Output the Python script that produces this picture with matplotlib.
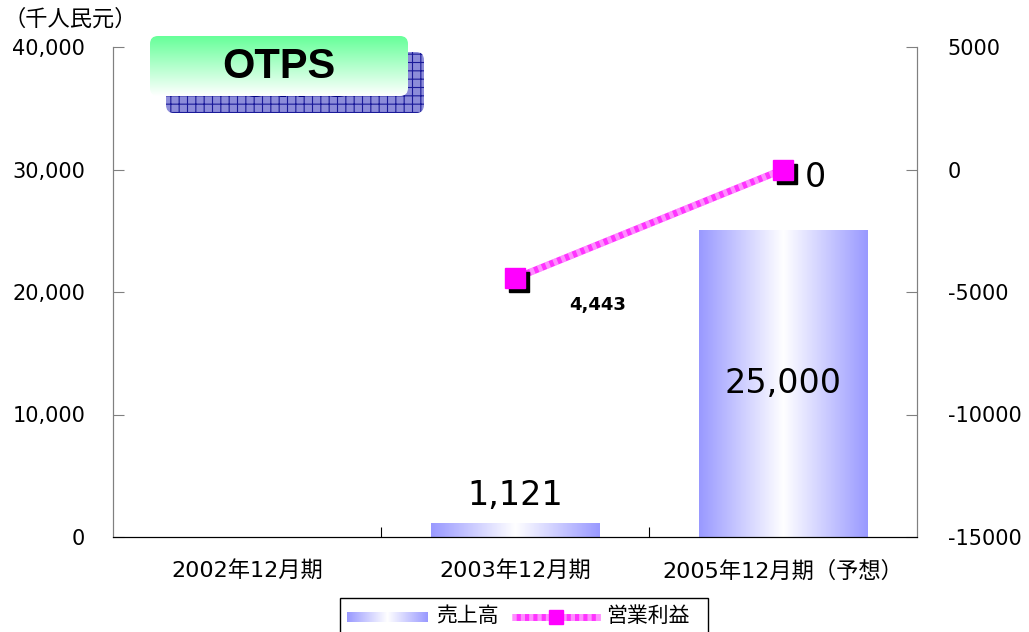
import numpy as np
import matplotlib
matplotlib.use('Agg')
import matplotlib.pyplot as plt
from matplotlib.patches import FancyBboxPatch, Rectangle
from matplotlib.colors import LinearSegmentedColormap
import matplotlib.transforms as mtransforms

plt.rcParams['font.family'] = ['DejaVu Sans', 'Noto Sans CJK JP']
plt.rcParams['hatch.linewidth'] = 0.8

# data
categories = ['2002年12月期', '2003年12月期', '2005年12月期（予想）']
sales = [0, 1121, 25000]
sales_labels = ['', '1,121', '25,000']
op_x = [1, 2]
op_profit = [-4443, 0]
op_labels = ['4,443', '0']
left_ticks = [0, 10000, 20000, 30000, 40000]
right_ticks = [-15000, -10000, -5000, 0, 5000]

fig = plt.figure(figsize=(10.29, 6.32), dpi=100)
ax = fig.add_axes([113/1029, 95/632, 804/1029, 490/632])
ax2 = ax.twinx()

# gradient bars
bar_cmap = LinearSegmentedColormap.from_list('bb', ['#9999ff', '#ffffff', '#9999ff'])
grad = np.linspace(0, 1, 256).reshape(1, -1)
w = 0.63
for i, v in enumerate(sales):
    if v <= 0:
        continue
    ax.imshow(grad, cmap=bar_cmap, aspect='auto',
              extent=(i - w/2, i + w/2, 0, v), zorder=2)
ax.set_xlim(-0.5, 2.5)
ax.set_ylim(0, 40000)
ax2.set_ylim(-15000, 5000)

ax.text(1, sales[1] + 900, sales_labels[1], ha='center', va='bottom', fontsize=24, zorder=5)
ax.text(2, 12500, sales_labels[2], ha='center', va='center', fontsize=24, zorder=5)

# line
ax2.plot(op_x, op_profit, color='#ff33ff', lw=5, zorder=3, solid_capstyle='butt')
ax2.plot(op_x, op_profit, color='white', lw=5, zorder=3, alpha=0.45,
         dashes=(0.6, 0.6))
shadow = mtransforms.offset_copy(ax2.transData, fig=fig, x=4, y=-4, units='dots')
ax2.plot(op_x, op_profit, 's', color='black', ms=14, transform=shadow, zorder=4)
ax2.plot(op_x, op_profit, 's', color='#ff00ff', ms=14, zorder=5)
ax2.annotate(op_labels[0], (op_x[0], op_profit[0]), xytext=(39, -19),
             textcoords='offset points', ha='left', va='center', fontsize=13,
             fontweight='bold')
ax2.annotate(op_labels[1], (op_x[1], op_profit[1]), xytext=(16, -6),
             textcoords='offset points', ha='left', va='center', fontsize=24)

# axes style
for a in (ax, ax2):
    a.spines['top'].set_visible(False)
    a.spines['left'].set_color('#808080')
    a.spines['right'].set_color('#808080')
    a.spines['bottom'].set_color('black')
ax.set_yticks(left_ticks)
ax.set_yticklabels([f'{t:,}' for t in left_ticks], fontsize=15)
ax2.set_yticks(right_ticks)
ax2.set_yticklabels([str(t) for t in right_ticks], fontsize=15)
ax.tick_params(axis='y', direction='in', length=8, color='#808080', pad=20)
ax2.tick_params(axis='y', direction='in', length=8, color='#808080', pad=22)
ax.set_xticks([0.5, 1.5])
ax.set_xticklabels(['', ''])
ax.tick_params(axis='x', direction='in', length=7, color='black')
for i, c in enumerate(categories):
    ax.text(i, -1900, c, ha='center', va='top', fontsize=16)

fig.text(0.003, 0.97, '（千人民元）', fontsize=16, ha='left', va='center',
         family=['Noto Sans CJK JP'])

# title box
tax = fig.add_axes([0, 0, 1, 1], zorder=10)
tax.set_xlim(0, 1029)
tax.set_ylim(632, 0)
tax.axis('off')
sh = FancyBboxPatch((166, 52), 258, 61, boxstyle='round,pad=0,rounding_size=8',
                    facecolor='#8c8cd9', edgecolor='#1a1a99', hatch='++', lw=0)
tax.add_patch(sh)
tax.text(295, 86, 'OTPS', ha='center', va='center', fontsize=30,
         fontweight='bold', color='#000080', family='Liberation Sans')
gbox = FancyBboxPatch((150, 36), 258, 60, boxstyle='round,pad=0,rounding_size=8',
                      facecolor='none', edgecolor='none')
tax.add_patch(gbox)
green = LinearSegmentedColormap.from_list('gg', ['#66ff99', '#ffffff'])
im = tax.imshow(np.linspace(0, 1, 256).reshape(-1, 1), cmap=green, aspect='auto',
                extent=(150, 408, 96, 36), zorder=3)
im.set_clip_path(gbox)
tax.text(279, 67, 'OTPS', ha='center', va='center', fontsize=30,
         fontweight='bold', color='black', family='Liberation Sans', zorder=4)

# legend
tax.add_patch(Rectangle((340, 598), 368, 40, facecolor='white', edgecolor='black', lw=1))
tax.imshow(grad, cmap=bar_cmap, aspect='auto', extent=(347, 428, 622, 612), zorder=3)
tax.text(436, 616, '売上高', ha='left', va='center', fontsize=15, zorder=4,
         family=['Noto Sans CJK JP'])
tax.plot([512, 600], [617, 617], color='#ff33ff', lw=5, zorder=4, solid_capstyle='butt')
tax.plot([512, 600], [617, 617], color='white', lw=5, zorder=4, alpha=0.45, dashes=(0.6, 0.6))
tax.plot([556], [617], 's', color='#ff00ff', ms=10, zorder=5)
tax.text(606, 616, '営業利益', ha='left', va='center', fontsize=15, zorder=4,
         family=['Noto Sans CJK JP'])

fig.savefig('out.png', dpi=100)
